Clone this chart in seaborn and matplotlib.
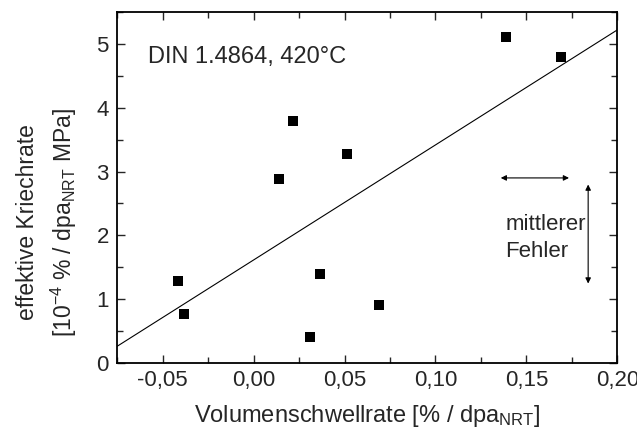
import matplotlib
matplotlib.use('Agg')
import matplotlib.pyplot as plt
import matplotlib.ticker as mticker
import numpy as np
import pandas as pd
import seaborn as sns

# data
schwellrate = [-0.0417, -0.0381, 0.0141, 0.0215, 0.0311, 0.0365, 0.0512, 0.0691, 0.139, 0.1692]
kriechrate = [1.28, 0.77, 2.89, 3.80, 0.40, 1.39, 3.27, 0.90, 5.11, 4.79]

# fitted line (slope, intercept) as drawn in the figure
fit_slope = 18.04
fit_intercept = 1.613

x_ticks = [-0.05, 0.00, 0.05, 0.10, 0.15, 0.20]
y_ticks = [0, 1, 2, 3, 4, 5]

df = pd.DataFrame({'x': schwellrate, 'y': kriechrate})

sns.set_style('ticks')
plt.rcParams['font.family'] = ['Liberation Sans', 'DejaVu Sans']
plt.rcParams['mathtext.default'] = 'regular'

fig, ax = plt.subplots(figsize=(6.37, 4.34), dpi=100)
fig.subplots_adjust(left=0.184, right=0.969, top=0.972, bottom=0.164)

# regression line
x_line = np.array([-0.075, 0.2])
ax.plot(x_line, fit_slope * x_line + fit_intercept, color='black', lw=0.8)

sns.scatterplot(data=df, x='x', y='y', marker='s', s=50, color='black',
                edgecolor='black', linewidth=0, ax=ax, zorder=3)

ax.set_xlim(-0.075, 0.2)
ax.set_ylim(0, 5.5)
ax.set_xticks(x_ticks)
ax.set_yticks(y_ticks)
ax.xaxis.set_minor_locator(mticker.MultipleLocator(0.025))
ax.yaxis.set_minor_locator(mticker.MultipleLocator(0.5))
ax.xaxis.set_major_formatter(mticker.FuncFormatter(lambda v, p: f'{v:.2f}'.replace('.', ',')))
ax.yaxis.set_major_formatter(mticker.FuncFormatter(lambda v, p: f'{v:.0f}'))

ax.tick_params(which='both', direction='in', top=True, right=True, width=1, labelsize=16)
ax.tick_params(axis='x', pad=5)
ax.tick_params(axis='y', pad=6)
ax.tick_params(which='major', length=6)
ax.tick_params(which='minor', length=4.5)
for sp in ax.spines.values():
    sp.set_linewidth(1.3)
    sp.set_color('black')

ax.set_xlabel('Volumenschwellrate [% / dpa$_{NRT}$]', fontsize=17, labelpad=9)
ax.set_ylabel('effektive Kriechrate\n[10$^{-4}$ % / dpa$_{NRT}$ MPa]', fontsize=16.5,
              linespacing=1.45)
ax.yaxis.set_label_coords(-0.076, 0.40)

ax.text(-0.058, 4.79, 'DIN 1.4864, 420°C', fontsize=17, va='center', ha='left')
ax.text(0.1384, 1.96, 'mittlerer\nFehler', fontsize=16, va='center', ha='left', linespacing=1.35)

# error arrows
ax.annotate('', xy=(0.1344, 2.90), xytext=(0.175, 2.90),
            arrowprops=dict(arrowstyle='<|-|>', color='black', lw=0.8, mutation_scale=8))
ax.annotate('', xy=(0.184, 2.84), xytext=(0.184, 1.20),
            arrowprops=dict(arrowstyle='<|-|>', color='black', lw=0.8, mutation_scale=8))

fig.savefig('out.png', dpi=100)
